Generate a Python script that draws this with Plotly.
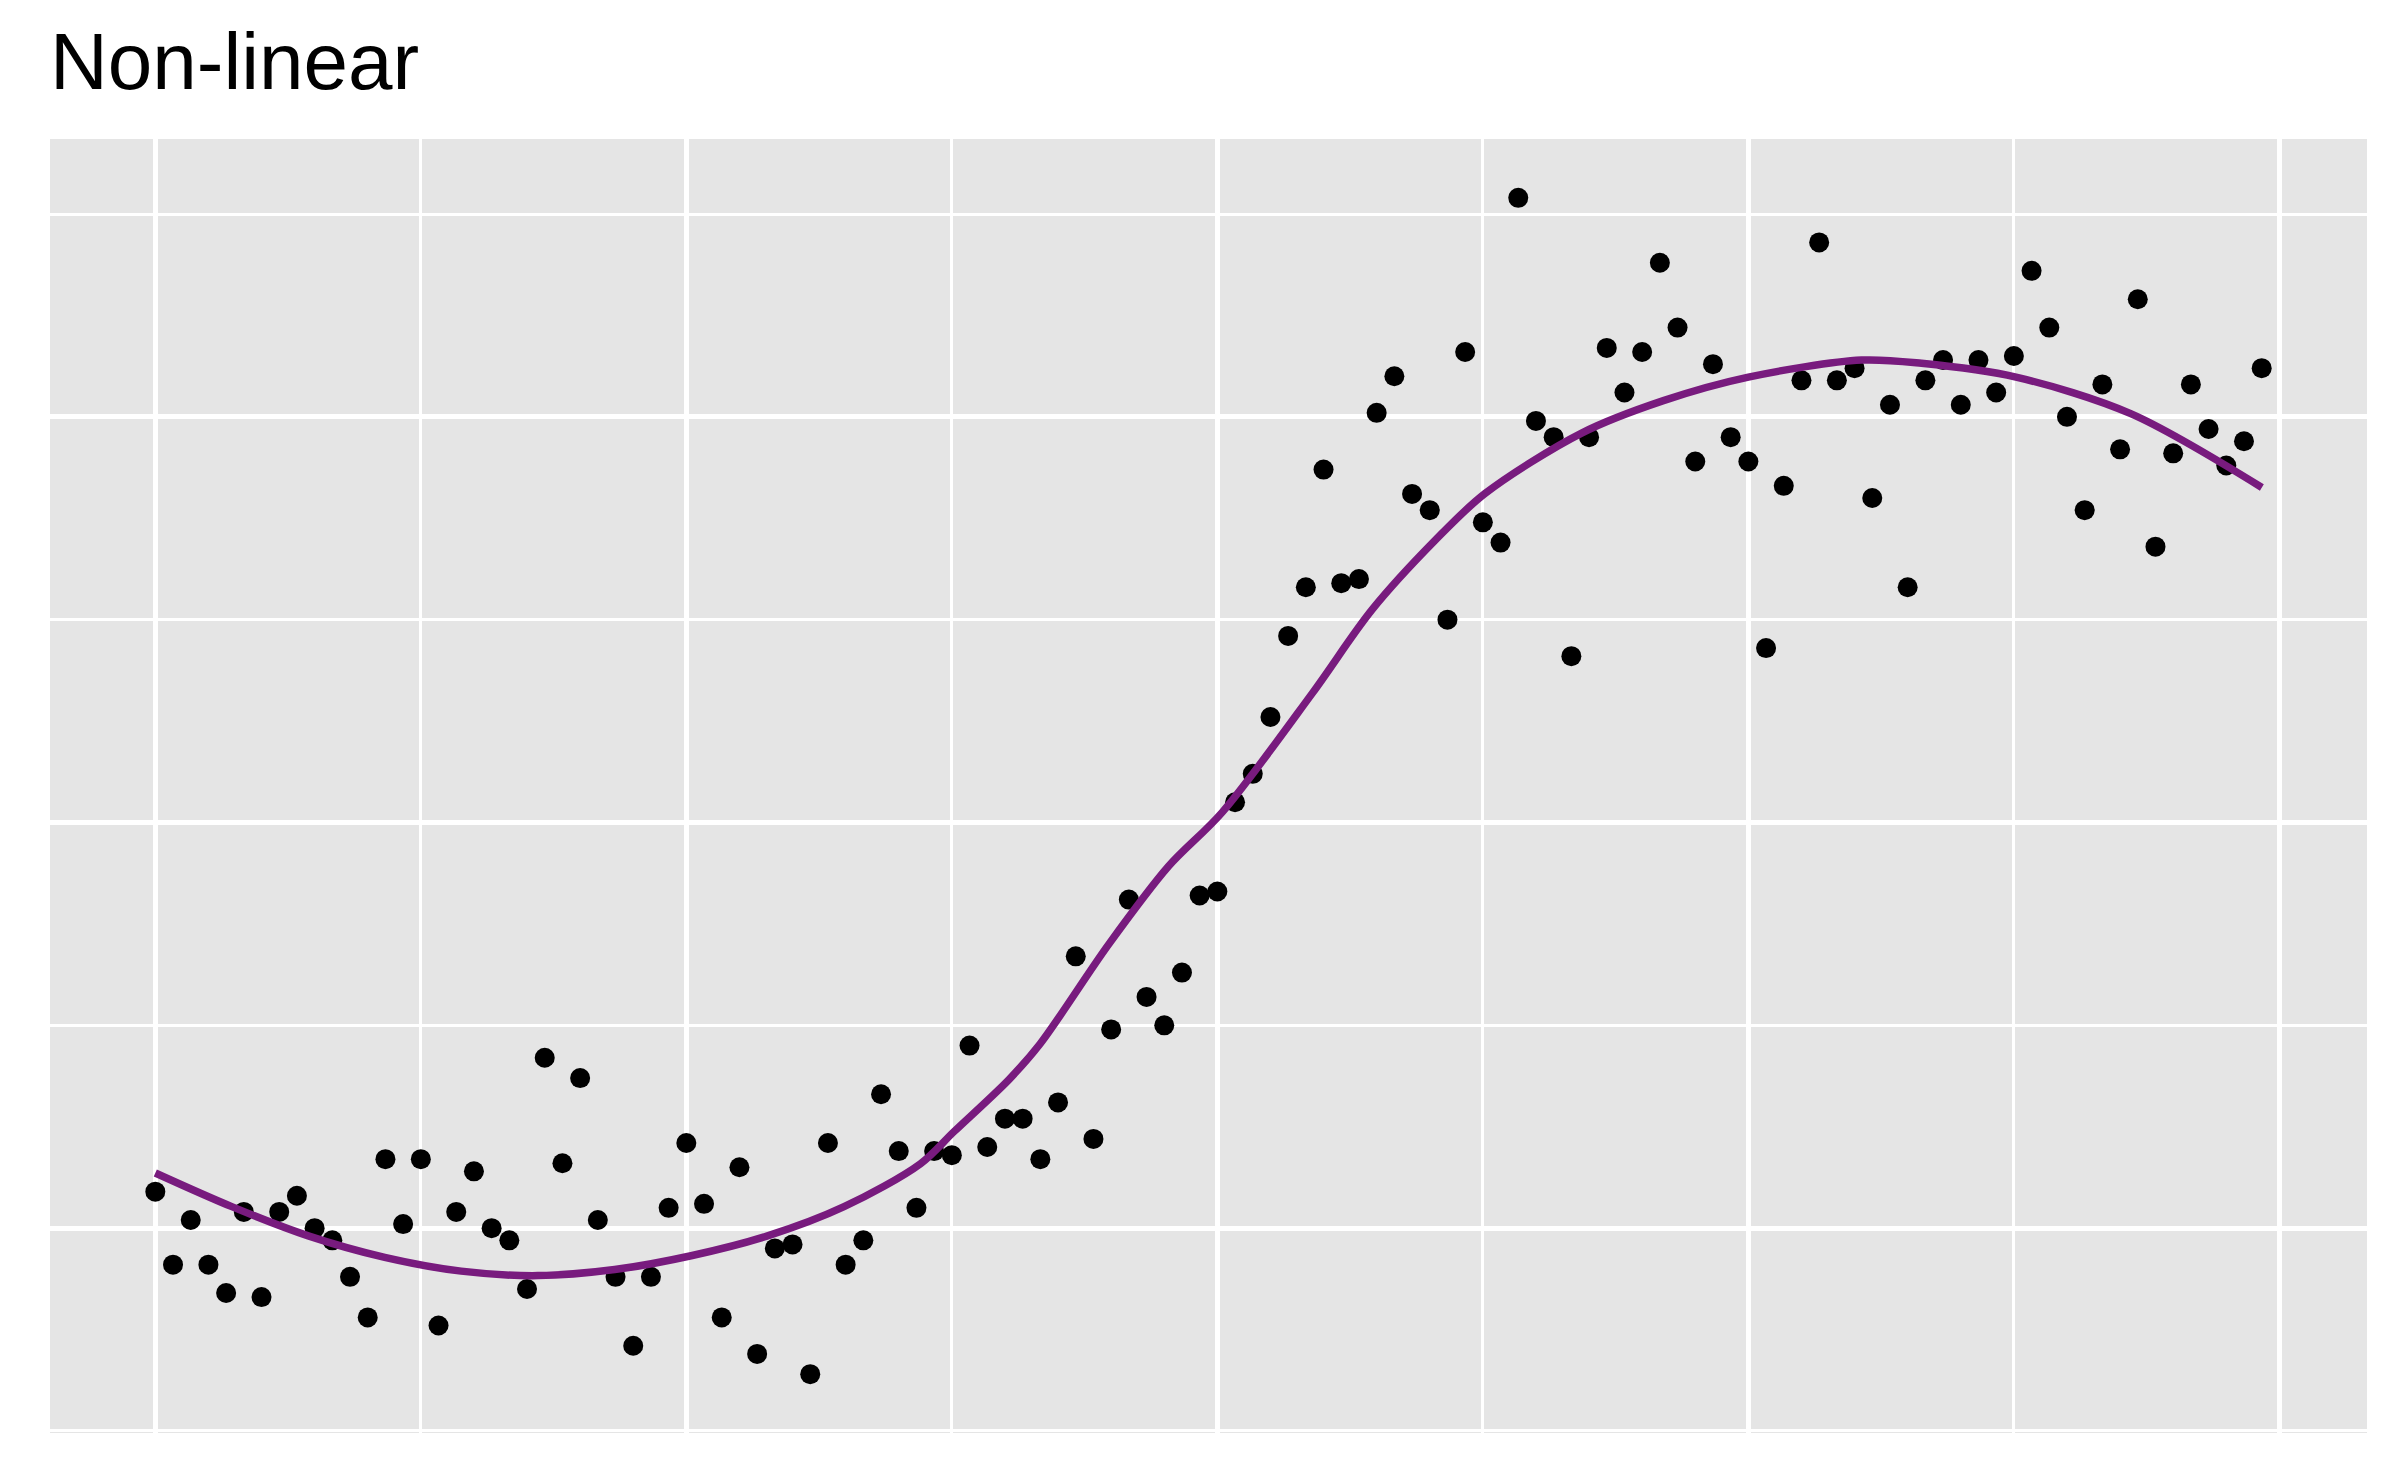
import numpy as np
import plotly.graph_objects as go

# x positions: evenly spaced observations
n_points = 120
x_step = 1 / 30

y_values = [
    0.09, -0.09, 0.02, -0.09, -0.16, 0.04, -0.17, 0.04, 0.08, 0.00,
    -0.03, -0.12, -0.22, 0.17, 0.01, 0.17, -0.24, 0.04, 0.14, 0.00,
    -0.03, -0.15, 0.42, 0.16, 0.37, 0.02, -0.12, -0.29, -0.12, 0.05,
    0.21, 0.06, -0.22, 0.15, -0.31, -0.05, -0.04, -0.36, 0.21, -0.09,
    -0.03, 0.33, 0.19, 0.05, 0.19, 0.18, 0.45, 0.20, 0.27, 0.27,
    0.17, 0.31, 0.67, 0.22, 0.49, 0.81, 0.57, 0.50, 0.63, 0.82,
    0.83, 1.05, 1.12, 1.26, 1.46, 1.58, 1.87, 1.59, 1.60, 2.01,
    2.10, 1.81, 1.77, 1.50, 2.16, 1.74, 1.69, 2.54, 1.99, 1.95,
    1.41, 1.95, 2.17, 2.06, 2.16, 2.38, 2.22, 1.89, 2.13, 1.95,
    1.89, 1.43, 1.83, 2.09, 2.43, 2.09, 2.12, 1.80, 2.03, 1.58,
    2.09, 2.14, 2.03, 2.14, 2.06, 2.15, 2.36, 2.22, 2.00, 1.77,
    2.08, 1.92, 2.29, 1.68, 1.91, 2.08, 1.97, 1.88, 1.94, 2.12,
]

# smoothed (loess-like) fit
smooth_x = [0.0, 0.144, 0.288, 0.432, 0.576, 0.720, 0.865, 1.009, 1.153, 1.297,
            1.441, 1.504, 1.608, 1.666, 1.795, 1.908, 2.009, 2.179, 2.291, 2.409,
            2.504, 2.686, 2.840, 3.000, 3.213, 3.326, 3.504, 3.720, 3.967]
smooth_y = [0.136, 0.053, -0.019, -0.072, -0.106, -0.117, -0.102, -0.068, -0.019, 0.053,
            0.159, 0.238, 0.367, 0.454, 0.699, 0.892, 1.025, 1.319, 1.524, 1.694,
            1.811, 1.960, 2.040, 2.098, 2.140, 2.132, 2.098, 2.008, 1.826]

x_major = [0, 1, 2, 3, 4]
x_minor = [0.5, 1.5, 2.5, 3.5]
y_major = [0, 1, 2]
y_minor = [-0.5, 0.5, 1.5, 2.5]

title_text = "Non-linear"

x_values = np.arange(n_points) * x_step

fig = go.Figure()
fig.add_trace(go.Scatter(
    x=x_values, y=y_values, mode="markers",
    marker=dict(color="black", size=20, line=dict(width=0)),
    showlegend=False, hoverinfo="skip",
))
fig.add_trace(go.Scatter(
    x=smooth_x, y=smooth_y, mode="lines",
    line=dict(color="#781B7E", width=7.5, shape="spline", smoothing=0.9),
    showlegend=False, hoverinfo="skip",
))

xmin, xmax = float(x_values.min()), float(x_values.max())
xpad = 0.05 * (xmax - xmin)
ymin, ymax = min(y_values), max(y_values)
ypad = 0.05 * (ymax - ymin)

fig.update_layout(
    width=2400, height=1483,
    margin=dict(l=42, r=41, t=131, b=58),
    paper_bgcolor="white",
    plot_bgcolor="#E5E5E5",
    font=dict(family="Liberation Sans, Arial, sans-serif", color="black"),
    annotations=[dict(
        text=title_text, xref="paper", yref="paper", x=0, y=1,
        xanchor="left", yanchor="bottom", yshift=31, xshift=-2,
        showarrow=False, font=dict(size=80, color="black"),
    )],
)
fig.update_xaxes(
    range=[xmin - xpad, xmax + xpad],
    tickmode="array", tickvals=x_major, showticklabels=False, ticks="",
    showgrid=True, gridcolor="white", gridwidth=5, zeroline=False,
    showline=False,
    minor=dict(tickvals=x_minor, showgrid=True, gridcolor="white", gridwidth=2.5, ticks=""),
)
fig.update_yaxes(
    range=[ymin - ypad, ymax + ypad],
    tickmode="array", tickvals=y_major, showticklabels=False, ticks="",
    showgrid=True, gridcolor="white", gridwidth=5, zeroline=False,
    showline=False,
    minor=dict(tickvals=y_minor, showgrid=True, gridcolor="white", gridwidth=2.5, ticks=""),
)

fig.write_html("out.html")
